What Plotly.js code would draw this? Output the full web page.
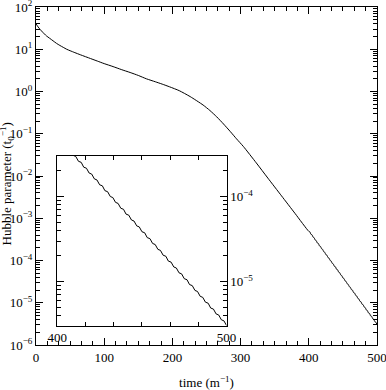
<!DOCTYPE html>
<html>
<head>
<meta charset="utf-8">
<script src="https://cdn.plot.ly/plotly-3.0.1.min.js"></script>
<style>html,body{margin:0;padding:0;background:#fff;}#chart{width:386px;height:390px;}</style>
</head>
<body>
<div id="chart"></div>
<script>
// time (m^-1) and log10 of Hubble parameter (t0^-1)
var tEarly = [0, 3, 6, 10, 15, 20, 25, 30, 35, 40, 45, 50, 57, 65, 80, 90, 100, 113, 125, 138, 150, 162, 175, 185, 196, 210, 226, 245, 255, 265, 275, 285, 294, 304, 323, 340, 360, 380];
var logHEarly = [1.60, 1.53, 1.47, 1.40, 1.32, 1.26, 1.20, 1.14, 1.09, 1.045, 1.00, 0.965, 0.92, 0.87, 0.78, 0.72, 0.66, 0.59, 0.52, 0.45, 0.38, 0.30, 0.23, 0.175, 0.11, 0.02, -0.12, -0.32, -0.45, -0.60, -0.77, -0.95, -1.12, -1.30, -1.69, -2.05, -2.47, -2.89];

// late-time oscillating decay (visible as steps in the inset)
var tLate = [400.0, 401.6, 403.1, 404.7, 406.3, 407.8, 409.4, 410.9, 412.5, 414.1, 415.6, 417.2, 418.8, 420.3, 421.9, 423.4, 425.0, 426.6, 428.1, 429.7, 431.3, 432.8, 434.4, 435.9, 437.5, 439.1, 440.6, 442.2, 443.8, 445.3, 446.9, 448.4, 450.0, 451.6, 453.1, 454.7, 456.3, 457.8, 459.4, 460.9, 462.5, 464.1, 465.6, 467.2, 468.8, 470.3, 471.9, 473.4, 475.0, 476.6, 478.1, 479.7, 481.3, 482.8, 484.4, 485.9, 487.5, 489.1, 490.6, 492.2, 493.8, 495.3, 496.9, 498.4, 500.0];
var logHLate = [-3.310, -3.322, -3.379, -3.391, -3.448, -3.460, -3.517, -3.529, -3.586, -3.598, -3.655, -3.667, -3.724, -3.736, -3.793, -3.805, -3.862, -3.874, -3.931, -3.943, -4.000, -4.012, -4.069, -4.081, -4.138, -4.150, -4.207, -4.219, -4.276, -4.288, -4.345, -4.357, -4.414, -4.426, -4.483, -4.495, -4.552, -4.564, -4.621, -4.633, -4.690, -4.702, -4.759, -4.771, -4.828, -4.840, -4.897, -4.909, -4.966, -4.978, -5.035, -5.047, -5.104, -5.116, -5.173, -5.185, -5.242, -5.254, -5.311, -5.323, -5.380, -5.392, -5.449, -5.461, -5.518];

// tick labels
var xTickVals = [0, 100, 200, 300, 400, 500];
var xTickText = ['0', '100', '200', '300', '400', '500'];
var yTickVals = [1e-6, 1e-5, 1e-4, 1e-3, 1e-2, 1e-1, 1e0, 1e1, 1e2];
var yTickText = ['10<sup>\u22126</sup>', '10<sup>\u22125</sup>', '10<sup>\u22124</sup>', '10<sup>\u22123</sup>', '10<sup>\u22122</sup>', '10<sup>\u22121</sup>', '10<sup>0</sup>', '10<sup>1</sup>', '10<sup>2</sup>'];
var insetXTickVals = [400, 500];
var insetXTickText = ['400', '500'];
var insetYTickVals = [1e-5, 1e-4];
var insetYTickText = ['10<sup>\u22125</sup>', '10<sup>\u22124</sup>'];

var xTitle = 'time (m<sup>\u22121</sup>)';
var yTitle = 'Hubble parameter (t<sub>0</sub><sup>\u22121</sup>)';

function pow10(a){ return a.map(function(v){ return Math.pow(10, v); }); }

var tAll = tEarly.concat(tLate);
var hAll = pow10(logHEarly.concat(logHLate));

var fam = 'Liberation Serif, Times New Roman, serif';
var font = {family: fam, size: 13, color: '#000'};
var titleFont = {family: fam, size: 13, color: '#000'};
var line = {color: '#000', width: 1, shape: 'spline', smoothing: 0.6};
var lineInset = {color: '#000', width: 1};

var traces = [
  {x: tAll, y: hAll, type: 'scatter', mode: 'lines', line: line, xaxis: 'x', yaxis: 'y', hoverinfo: 'skip'},
  {x: tLate, y: pow10(logHLate), type: 'scatter', mode: 'lines', line: lineInset, xaxis: 'x2', yaxis: 'y2', hoverinfo: 'skip'}
];

var axCommon = {showline: true, linecolor: '#000', linewidth: 1, ticks: 'inside', tickcolor: '#000', tickwidth: 1, mirror: 'ticks', showgrid: false, zeroline: false, tickfont: font, automargin: false, ticklabeloverflow: 'allow'};

var layout = {
  width: 386, height: 390,
  margin: {l: 36, r: 9, t: 7, b: 45, pad: 0},
  paper_bgcolor: '#fff', plot_bgcolor: '#fff',
  showlegend: false,
  font: font,
  xaxis: Object.assign({}, axCommon, {
    range: [-0.001, 500.001], tickmode: 'array', tickvals: xTickVals, ticktext: xTickText, ticklen: 7,
    minor: {ticks: 'inside', ticklen: 4, dtick: 100/6, tick0: 0, tickcolor: '#000', showgrid: false},
    title: {text: xTitle, font: titleFont, standoff: 14},
    domain: [0, 1], anchor: 'y'
  }),
  yaxis: Object.assign({}, axCommon, {
    type: 'log', range: [-6.0001, 2.0001], tickmode: 'array', tickvals: yTickVals, ticktext: yTickText, ticklen: 7,
    minor: {ticks: 'inside', ticklen: 4, dtick: 'D1', tickcolor: '#000', showgrid: false},
    domain: [0, 1], anchor: 'x'
  }),
  xaxis2: Object.assign({}, axCommon, {
    range: [399.999, 500.001], tickmode: 'array', tickvals: insetXTickVals, ticktext: insetXTickText, ticklen: 7,
    minor: {ticks: 'inside', ticklen: 4, dtick: 100/6, tick0: 400, tickcolor: '#000', showgrid: false},
    domain: [0.0625, 0.559], anchor: 'y2'
  }),
  yaxis2: Object.assign({}, axCommon, {
    type: 'log', range: [-5.518, -3.518], tickmode: 'array', tickvals: insetYTickVals, ticktext: insetYTickText, ticklen: 7, side: 'right',
    minor: {ticks: 'inside', ticklen: 4, dtick: 'D1', tickcolor: '#000', showgrid: false},
    domain: [0.0572, 0.5606], anchor: 'x2'
  }),
  annotations: [{
    text: yTitle, xref: 'paper', yref: 'paper', x: -0.086, y: 0.477,
    xanchor: 'center', yanchor: 'middle', textangle: -90, showarrow: false, font: titleFont
  }]
};

Plotly.newPlot('chart', traces, layout, {staticPlot: true, displayModeBar: false});
</script>
</body>
</html>
